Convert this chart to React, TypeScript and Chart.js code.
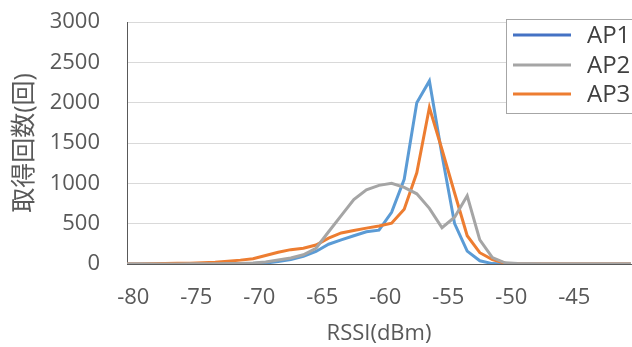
import React, { useEffect, useRef } from 'react';
import { Chart, registerables } from 'chart.js';

Chart.register(...registerables);

// RSSI categories (dBm)
const rssi = [
  -80, -79, -78, -77, -76, -75, -74, -73, -72, -71,
  -70, -69, -68, -67, -66, -65, -64, -63, -62, -61,
  -60, -59, -58, -57, -56, -55, -54, -53, -52, -51,
  -50, -49, -48, -47, -46, -45, -44, -43, -42, -41, -40,
];
// labels shown on the x axis
const tickLabels = [-80, -75, -70, -65, -60, -55, -50, -45];

const ap1 = [
  0, 0, 0, 0, 0, 0, 1, 2, 3, 5,
  7, 12, 30, 55, 95, 155, 245, 300, 350, 400,
  420, 640, 1050, 2000, 2270, 1350, 500, 160, 40, 5,
  0, 0, 0, 0, 0, 0, 0, 0, 0, 0, 0,
];
const ap2 = [
  0, 0, 0, 0, 1, 2, 3, 4, 5, 7,
  12, 25, 50, 75, 115, 195, 400, 600, 800, 920,
  975, 1000, 950, 870, 690, 450, 580, 845, 300, 80,
  15, 5, 2, 1, 1, 0, 0, 0, 0, 0, 0,
];
const ap3 = [
  0, 0, 2, 5, 8, 10, 15, 22, 35, 48,
  65, 105, 145, 178, 195, 235, 320, 385, 415, 445,
  470, 505, 680, 1130, 1940, 1420, 880, 350, 140, 55,
  10, 3, 1, 0, 0, 0, 0, 0, 0, 0, 0,
];
const seriesNames = ['AP1', 'AP2', 'AP3'];
const yAxisTitle = '取得回数(回)';
const xAxisTitle = 'RSSI(dBm)';

const FONT = "'Open Sans', 'Noto Sans CJK JP', sans-serif";
const TEXT = '#595959';

const legendPlugin = {
  id: 'boxLegend',
  afterDraw(chart: any) {
    const ctx = chart.ctx as CanvasRenderingContext2D;
    ctx.save();
    ctx.fillStyle = '#ffffff';
    ctx.fillRect(506, 19, 140, 94);
    ctx.strokeStyle = '#a6a6a6';
    ctx.lineWidth = 1;
    ctx.strokeRect(506.5, 19.5, 140, 94);
    const rows = [35, 65, 94];
    chart.data.datasets
      .slice()
      .sort((a: any, b: any) => a.legendIndex - b.legendIndex)
      .forEach((ds: any, i: number) => {
        const y = rows[i];
        ctx.strokeStyle = ds.legendColor;
        ctx.lineWidth = 3;
        ctx.beginPath();
        ctx.moveTo(513, y);
        ctx.lineTo(571, y);
        ctx.stroke();
        ctx.fillStyle = '#404040';
        ctx.font = `24px ${FONT}`;
        ctx.textAlign = 'left';
        ctx.textBaseline = 'middle';
        ctx.fillText(ds.label, 587, y + 1);
      });
    ctx.restore();
  },
};

export default function App() {
  const ref = useRef<HTMLCanvasElement | null>(null);

  useEffect(() => {
    if (!ref.current) return;
    const chart = new Chart(ref.current, {
      type: 'line',
      data: {
        labels: rssi.map(String),
        datasets: [
          {
            label: seriesNames[1],
            data: ap2,
            borderColor: '#a5a5a5',
            legendColor: '#a5a5a5',
            legendIndex: 1,
            borderWidth: 3,
            pointRadius: 0,
            tension: 0,
            order: 0,
          } as any,
          {
            label: seriesNames[2],
            data: ap3,
            borderColor: '#ed7d31',
            legendColor: '#ed7d31',
            legendIndex: 2,
            borderWidth: 3,
            pointRadius: 0,
            tension: 0,
            order: 1,
          } as any,
          {
            label: seriesNames[0],
            data: ap1,
            borderColor: '#5b9bd5',
            legendColor: '#4472c4',
            legendIndex: 0,
            borderWidth: 3,
            pointRadius: 0,
            tension: 0,
            order: 2,
          } as any,
        ],
      },
      options: {
        animation: false,
        responsive: false,
        devicePixelRatio: 1,
        layout: { padding: { top: 22, right: 1, bottom: 0, left: 0 } },
        plugins: { legend: { display: false }, tooltip: { enabled: false } },
        scales: {
          x: {
            type: 'category',
            offset: false,
            grid: { display: true, color: 'rgba(0,0,0,0)', drawTicks: false },
            border: { display: true, color: '#595959', width: 1 },
            afterFit: (s: any) => {
              s.height = 83;
              s.paddingLeft = 0;
              s.paddingRight = 0;
            },
            ticks: {
              autoSkip: false,
              maxRotation: 0,
              minRotation: 0,
              padding: 21,
              labelOffset: 6.3,
              color: TEXT,
              font: { family: FONT, size: 22 },
              callback: (_v: any, i: number) =>
                tickLabels.includes(rssi[i]) ? String(rssi[i]) : '',
            },
            title: {
              display: true,
              text: xAxisTitle,
              color: TEXT,
              font: { family: FONT, size: 22 },
              padding: { top: 0, bottom: 0 },
            },
          },
          y: {
            min: 0,
            max: 3000,
            grid: { color: '#d9d9d9', lineWidth: 1, drawTicks: false },
            border: { display: true, color: '#595959', width: 1 },
            afterFit: (s: any) => {
              s.width = 127;
              s.paddingTop = 0;
              s.paddingBottom = 0;
            },
            ticks: {
              stepSize: 500,
              padding: 27,
              color: TEXT,
              font: { family: FONT, size: 22 },
              callback: (v: any) => String(v),
            },
            title: {
              display: true,
              text: yAxisTitle,
              color: TEXT,
              font: { family: FONT, size: 25 },
              padding: { top: 10, bottom: 0 },
            },
          },
        },
      },
      plugins: [legendPlugin],
    });
    return () => chart.destroy();
  }, []);

  return (
    <div style={{ position: 'fixed', left: 0, top: 0, width: 632, height: 347, background: '#fff' }}>
      <canvas ref={ref} width={632} height={347} style={{ display: 'block' }} />
    </div>
  );
}
